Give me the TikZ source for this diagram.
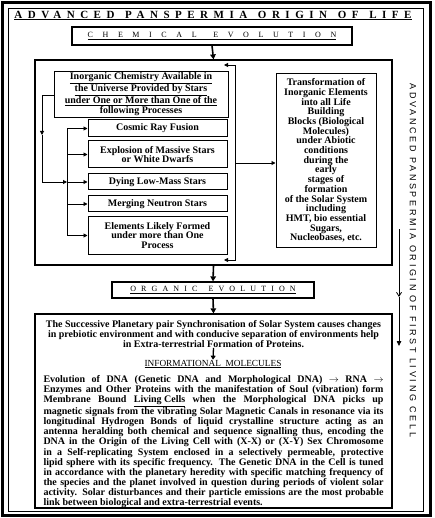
\documentclass[tikz,border=0pt]{standalone}
\usepackage{fontspec}
\setmainfont{Liberation Serif}
\newfontfamily\titlefont{Liberation Serif}[LetterSpace=50]
\newfontfamily\chemfont{Liberation Serif}[LetterSpace=120]
\newfontfamily\orgfont{Liberation Serif}[LetterSpace=64]
\newfontfamily\sidefont{Liberation Sans}[LetterSpace=30]
\usetikzlibrary{arrows.meta}
\newcommand\boxfont{\fontsize{10}{9.7}\selectfont\bfseries}
\newcommand\parafont{\fontsize{10}{10.1}\selectfont\bfseries}
\begin{document}
\begin{tikzpicture}[
			x=1pt,y=-1pt,
			box/.style={draw,line width=1pt,inner sep=0pt,align=center,font=\boxfont},
			bigbox/.style={draw,line width=1.2pt,inner sep=0pt},
			procbox/.style={box,minimum width=139pt},
			arr/.style={line width=1.6pt,-{Triangle[length=5pt,width=5.5pt]}},
			thinarr/.style={line width=0.9pt,-{Triangle[length=4pt,width=4pt]}}
		]
			\useasboundingbox (0,0) rectangle (434,518);
			% double frame
			\draw[line width=3.5pt] (2.5,2.5) rectangle (430.5,515.5);
			\draw[line width=0.7pt] (8,8) rectangle (423,511);
			% headings
			\node (title) at (213,15.5) {\fontsize{11}{12}\titlefont\bfseries\underline{ADVANCED\hspace{2.5pt} PANSPERMIA\hspace{2.5pt} ORIGIN\hspace{2.5pt} OF\hspace{2.5pt} LIFE}};
			\node[draw,line width=1.2pt,minimum width=280pt,minimum height=18pt,inner sep=0pt] (chem) at (212,36)
				{\fontsize{8}{9}\chemfont\underline{CHEMICAL\hspace{5pt} EVOLUTION}};
			% chemical evolution block
			\node[bigbox,minimum width=357pt,minimum height=205pt] (chembig) at (213.5,162.5) {};
			\node[box,minimum width=174pt,minimum height=46pt] (inorg) at (141,95)
				{\underline{Inorganic Chemistry Available\ in}\\ \underline{the Universe Provided by Stars}\\
				 \underline{under One or More than One\ of the}\\ \underline{following\ Processes}};
			\node[procbox,minimum height=17pt] (cosmic) at (157.5,128.5) {Cosmic Ray Fusion};
			\node[procbox,minimum height=27pt] (explosion) at (157.5,154.5) {Explosion of Massive Stars\\or White Dwarfs};
			\node[procbox,minimum height=16pt] (dying) at (157.5,182) {Dying\ Low-Mass Stars};
			\node[procbox,minimum height=16pt] (merging) at (157.5,204) {Merging\ Neutron Stars};
			\node[procbox,minimum height=37pt] (elements) at (157.5,235.5) {Elements Likely\ Formed\\under more than One\\Process};
			\node[box,minimum width=100pt,minimum height=173pt] (trans) at (326,160.5)
				{Transformation of\\Inorganic Elements\\into all Life\\Building\\Blocks (Biological\\Molecules)\\under Abiotic\\conditions\\during\ the\\early\\stages of\\formation\\of the Solar System\\including\\HMT, bio essential\\Sugars,\\Nucleobases, etc.};
			% left bracket and bus
			\coordinate (bus) at (67,0);
			\coordinate (lbx) at (42,135);
			\draw[thinarr] (inorg.west) -| (lbx);
			\draw[thinarr] (lbx) |- (dying.west -| bus);
			\draw[line width=0.9pt] (cosmic.west -| bus) -- (elements.west -| bus);
			\foreach \n in {cosmic,explosion,dying,merging,elements}
				\draw[thinarr] (\n.west -| bus) -- (\n.west);
			% right bracket
			\coordinate (rbx) at (235,163);
			\coordinate (rtop) at (224,65);
			\coordinate (rbot) at (224,260);
			\draw[thinarr] (rbx) |- (rtop);
			\draw[thinarr] (rbx) |- (rbot);
			\draw[thinarr] (rbx) -- (rbx -| trans.west);
			% organic evolution
			\node[draw,line width=1.2pt,minimum width=202pt,minimum height=16pt,inner sep=0pt] (organic) at (213,290)
				{\fontsize{8}{9}\orgfont\underline{ORGANIC\hspace{4pt} EVOLUTION}};
			\node[bigbox,minimum width=357pt,minimum height=194pt] (molbox) at (213.5,411) {};
			\node[align=center,font=\parafont,inner sep=0pt] (sync) at (213.5,334)
				{The Successive Planetary pair Synchronisation of Solar System causes changes\\
				 in prebiotic environment\ and with conducive separation of environments\ help\\
				 in Extra-terrestrial\ Formation of Proteins.};
			\node[font=\fontsize{9.3}{10}\selectfont,inner sep=0pt] (info) at (213,364) {\underline{INFORMATIONAL\ \ MOLECULES}};
			\node[text width=340pt,align=justify,font=\parafont,inner sep=0pt] (dna) at (213.5,441.5)
				{\tolerance=10000\hbadness=10000
				 Evolution of DNA (Genetic DNA and Morphological DNA) $\rightarrow$ RNA $\rightarrow$\linebreak
				 Enzymes and Other Proteins with the manifestation of\ Soul (vibration)\ form\linebreak
				 Membrane Bound \underline{Living Cells} when the Morphological DNA picks up\linebreak
				 magnetic signals from the vibrating Solar Magnetic Canals in resonance via its\linebreak
				 longitudinal Hydrogen Bonds of liquid crystalline structure acting as an\linebreak
				 antenna heralding both chemical and sequence signalling thus, encoding the\linebreak
				 DNA in the Origin of the Living Cell with (X-X) or (X-Y) Sex Chromosome\linebreak
				 in a Self-replicating System enclosed in a selectively permeable, protective\linebreak
				 lipid sphere with its specific frequency. The Genetic DNA in the Cell is tuned\linebreak
				 in\ accordance with\ the planetary heredity with specific matching frequency of\linebreak
				 the species and the planet involved in question during periods\ of violent solar\linebreak
				 activity. Solar disturbances and their particle emissions are the most probable\linebreak
				 link\ between biological and extra-terrestrial\ events.};
			% main arrows
			\draw[arr] (chem.south) -- (chembig.north);
			\draw[arr] (chembig.south) -- (organic.north);
			\draw[arr] (organic.south) -- (molbox.north);
			\draw[line width=1.3pt,-{Triangle[length=4pt,width=5pt]}] (sync.south) -- (info.north);
			% side title and arrows
			\node[rotate=-90,font=\fontsize{9}{10}\sidefont] (side) at (413,260.5) {ADVANCED PANSPERMIA ORIGIN OF FIRST LIVING CELL};
			\coordinate (sa) at (399,229);
			\coordinate (sb) at (399,297);
			\coordinate (sc) at (399,346);
			\draw[line width=0.8pt,-{Straight Barb[length=4pt,width=5pt]}] (sa) -- (sb);
			\draw[line width=0.8pt,-{Triangle[length=5pt,width=4.5pt]}] (sb) -- (sc);
		\end{tikzpicture}
\end{document}
